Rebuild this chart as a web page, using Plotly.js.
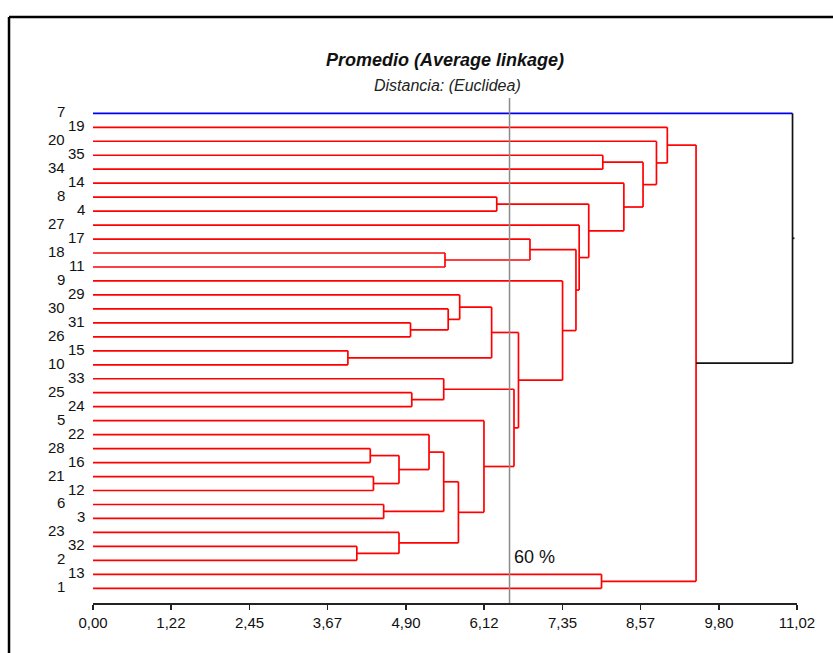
<!DOCTYPE html>
<html>
<head>
<meta charset="utf-8">
<script src="https://cdn.plot.ly/plotly-3.0.1.min.js"></script>
<style>html,body{margin:0;padding:0;background:#fff;}#chart{width:833px;height:653px;}</style>
</head>
<body>
<div id="chart"></div>
<script>
// Leaf order from top to bottom
const leaves = ['7','19','20','35','34','14','8','4','27','17','18','11','9','29','30','31','26','15','10','33','25','24','5','22','28','16','21','12','6','3','23','32','2','13','1'];

// Merges (children: leaf label or 'n'+merge index), with linkage distance
const mergeLeft   = ['32','15','28','21','6','31','25','18','n2','23','22','n10','33','30','n11','29','5','n15','8','n12','n17','17','9','n21','27','n18','13','35','14','n27','20','19','n31','7'];
const mergeRight  = ['2','10','16','12','3','26','24','11','n3','n0','n8','n4','n6','n5','n9','n13','n14','n1','4','n16','n19','n7','n20','n22','n23','n24','1','34','n25','n28','n29','n30','n26','n32'];
const mergeHeight = [4.13,3.99,4.34,4.39,4.55,4.97,4.99,5.51,4.79,4.79,5.26,5.49,5.49,5.56,5.72,5.74,6.12,6.24,6.32,6.59,6.66,6.84,7.35,7.56,7.61,7.76,7.96,7.98,8.31,8.61,8.82,8.99,9.44,10.95];

const tickVals = [0, 1.22, 2.45, 3.67, 4.90, 6.12, 7.35, 8.57, 9.80, 11.02];
const tickText = ['0,00','1,22','2,45','3,67','4,90','6,12','7,35','8,57','9,80','11,02'];

const cutHeight = 6.52;
const cutLabel = '60 %';
const titleText = 'Promedio (Average linkage)';
const subtitleText = 'Distancia: (Euclidea)';

// ---- build dendrogram geometry ----
const n = leaves.length;
const pos = {}; // ref -> {x: height, y: position}
leaves.forEach((lab, i) => { pos[lab] = {x: 0, y: n - 1 - i}; });

const red = {x: [], y: []}, blue = {x: [], y: []}, black = {x: [], y: []};
function seg(t, x0, y0, x1, y1) { t.x.push(x0, x1, null); t.y.push(y0, y1, null); }

const lastIdx = mergeHeight.length - 1;
for (let k = 0; k < mergeHeight.length; k++) {
  const a = pos[mergeLeft[k]], b = pos[mergeRight[k]], h = mergeHeight[k];
  if (k === lastIdx) {
    seg(blue, a.x, a.y, h, a.y);
    seg(black, h, a.y, h, b.y);
    seg(black, b.x, b.y, h, b.y);
    const mid = (a.y + b.y) / 2;
    seg(black, h, mid, h + 0.03, mid);
  } else {
    seg(red, a.x, a.y, h, a.y);
    seg(red, b.x, b.y, h, b.y);
    seg(red, h, a.y, h, b.y);
  }
  pos['n' + k] = {x: h, y: (a.y + b.y) / 2};
}

const FONT = '"Liberation Sans", Arial, Helvetica, sans-serif';

const traces = [
  {type: 'scatter', mode: 'lines', x: red.x, y: red.y, line: {color: '#ff0000', width: 1.7}, cliponaxis: false, hoverinfo: 'skip'},
  {type: 'scatter', mode: 'lines', x: blue.x, y: blue.y, line: {color: '#0000ee', width: 1.7}, cliponaxis: false, hoverinfo: 'skip'},
  {type: 'scatter', mode: 'lines', x: black.x, y: black.y, line: {color: '#111111', width: 1.7}, cliponaxis: false, hoverinfo: 'skip'}
];

const annotations = leaves.map((lab, i) => ({
  xref: 'paper', x: 0, yref: 'y', y: n - 1 - i,
  text: lab, showarrow: false, xanchor: 'right', yanchor: 'middle',
  xshift: (i % 2 === 0) ? -26 : -6, yshift: 1.5,
  font: {family: FONT, size: 15, color: '#111'}
}));
annotations.push({
  xref: 'x', x: cutHeight, yref: 'paper', y: 0.0917, text: cutLabel, showarrow: false,
  xanchor: 'left', yanchor: 'middle', xshift: 2, font: {family: FONT, size: 18, color: '#111'}
});
annotations.push({
  xref: 'paper', x: 0.503, yref: 'paper', y: 1.0238, text: '<i>' + subtitleText + '</i>', showarrow: false,
  xanchor: 'center', yanchor: 'middle', font: {family: FONT, size: 16, color: '#222'}
});

const layout = {
  width: 833, height: 653,
  margin: {l: 93, r: 36, t: 98, b: 50},
  paper_bgcolor: '#ffffff', plot_bgcolor: '#ffffff',
  showlegend: false,
  title: {text: '<b><i>' + titleText + '</i></b>', font: {family: FONT, size: 18, color: '#111'},
          x: 0.5, xref: 'paper', xanchor: 'center', y: 1 - 60 / 653, yref: 'container', yanchor: 'middle'},
  xaxis: {range: [0, 11.02], showgrid: false, zeroline: false, showline: true, linecolor: '#222', linewidth: 1.5,
          ticks: 'outside', ticklen: 5, tickwidth: 1.5, tickcolor: '#222',
          tickmode: 'array', tickvals: tickVals, ticktext: tickText,
          tickfont: {family: FONT, size: 15, color: '#111'}, fixedrange: true},
  yaxis: {range: [-1.052, 35.097], visible: false, showgrid: false, zeroline: false, fixedrange: true},
  shapes: [
    {type: 'line', xref: 'x', yref: 'paper', x0: cutHeight, x1: cutHeight, y0: 0, y1: 1, line: {color: '#8a8a8a', width: 1.5}},
    {type: 'line', xref: 'paper', yref: 'paper', x0: -0.1193, x1: -0.1193, y0: -0.2, y1: 1.1604, line: {color: '#000', width: 2.5}},
    {type: 'line', xref: 'paper', yref: 'paper', x0: -0.1193, x1: 1.2, y0: 1.1604, y1: 1.1604, line: {color: '#000', width: 2.5}}
  ],
  annotations: annotations
};

Plotly.newPlot('chart', traces, layout, {staticPlot: true, displayModeBar: false});
</script>
</body>
</html>
